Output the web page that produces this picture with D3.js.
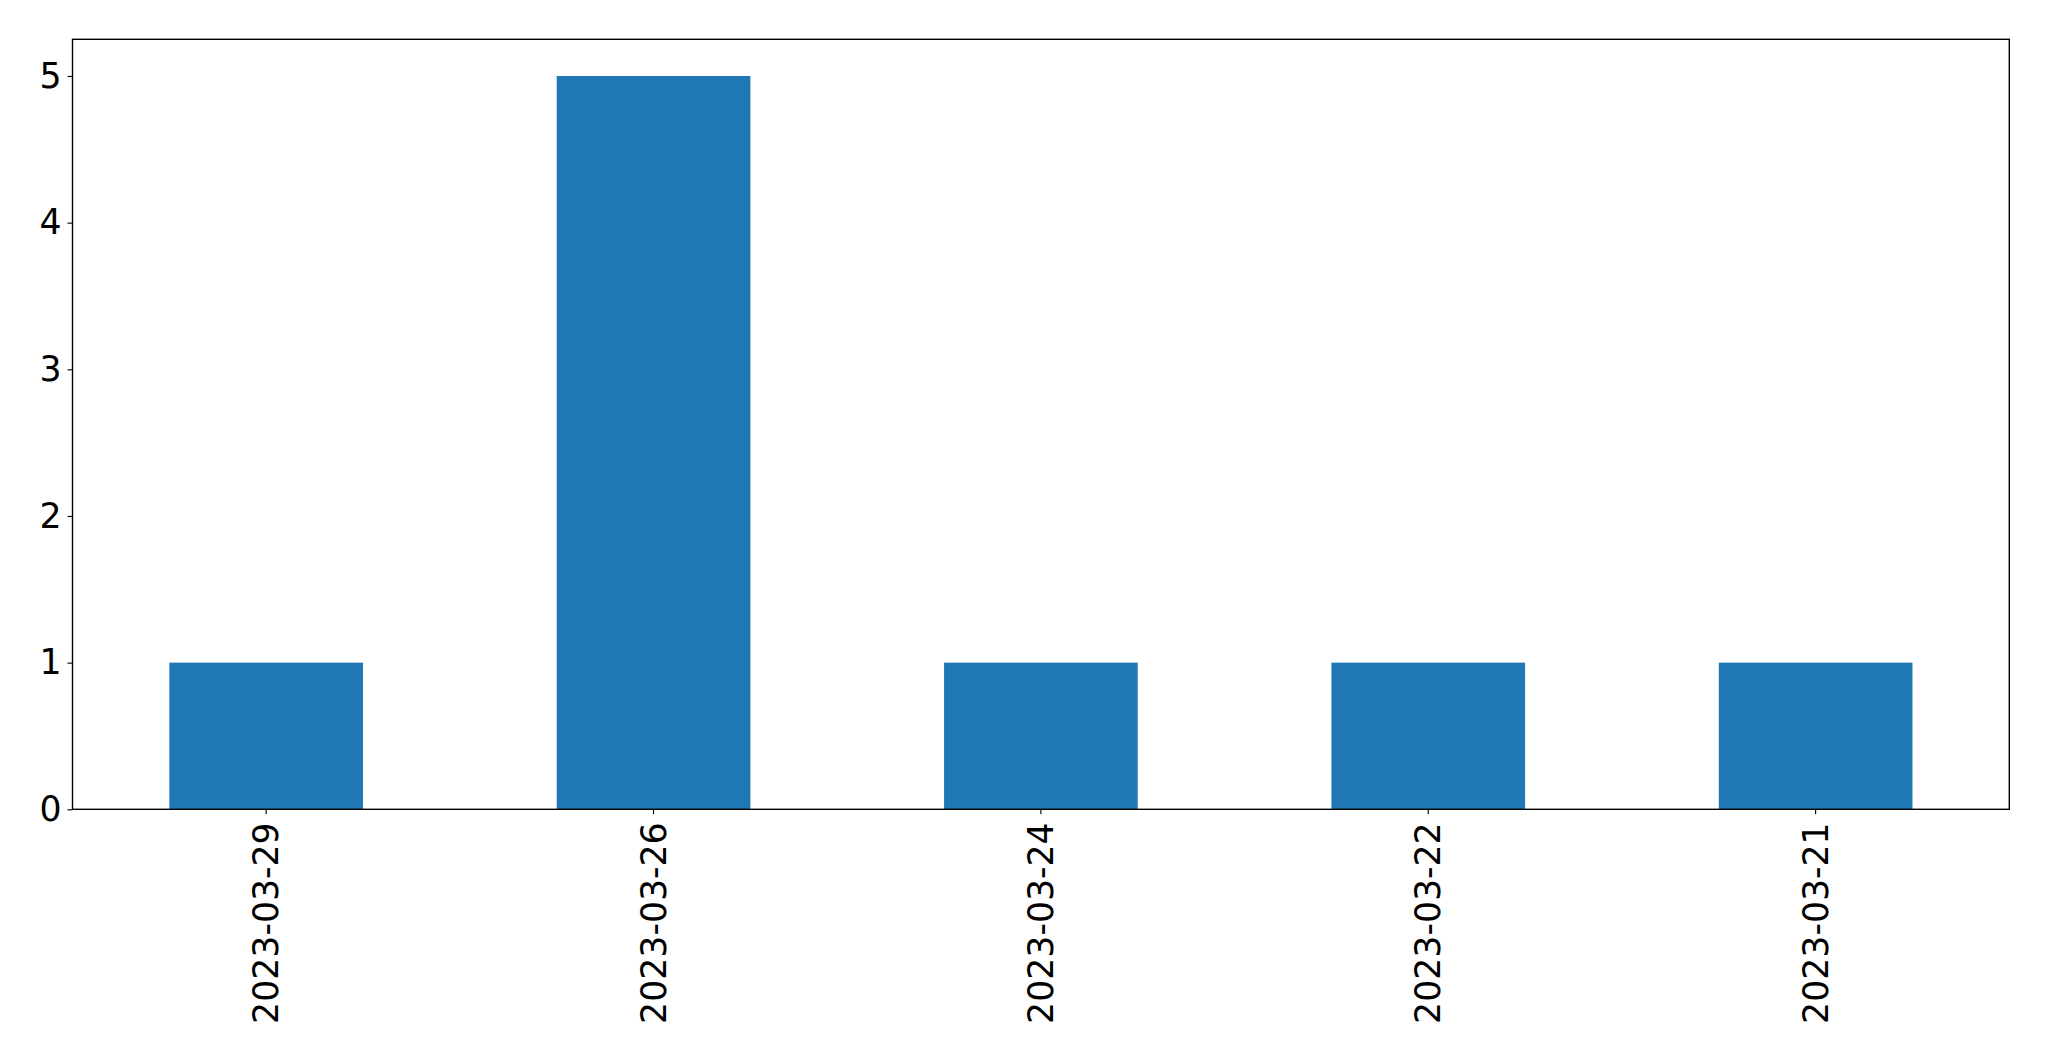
<!DOCTYPE html>
<html><head><meta charset="utf-8">
<script src="https://cdn.jsdelivr.net/npm/d3@7"></script>
<style>body{margin:0;background:#fff}svg{display:block}</style>
</head><body>
<script>
const categories = ["2023-03-29","2023-03-26","2023-03-24","2023-03-22","2023-03-21"];
const values = [1,5,1,1,1];
const yTicks = [0,1,2,3,4,5];

const W=2049,H=1061;
const m={left:72.5,right:2049-2009.3,top:39.3,bottom:1061-809.3};
const svg=d3.select("body").append("svg").attr("width",W).attr("height",H);
const iw=W-m.left-m.right, ih=H-m.top-m.bottom;
const g=svg.append("g").attr("transform",`translate(${m.left},${m.top})`);
const x=d3.scaleBand().domain(categories).range([0,iw]).paddingInner(0.5).paddingOuter(0.25);
const y=d3.scaleLinear().domain([0,5.25]).range([ih,0]);

g.selectAll("rect.bar").data(values).join("rect").attr("class","bar")
 .attr("x",(d,i)=>x(categories[i])).attr("width",x.bandwidth())
 .attr("y",d=>y(d)).attr("height",d=>ih-y(d)).attr("fill","#1f77b4");

const font="DejaVu Sans";
const ya=g.append("g").call(d3.axisLeft(y).tickValues(yTicks).tickSize(5).tickPadding(6).tickFormat(d3.format("d")));
ya.select(".domain").remove();
ya.selectAll("text").attr("font-family",font).attr("font-size",34.7).attr("fill","#000");
ya.selectAll("line").attr("stroke","#000").attr("stroke-width",1.1);

const xa=g.append("g").attr("transform",`translate(0,${ih})`).call(d3.axisBottom(x).tickSize(5).tickPadding(0));
xa.select(".domain").remove();
xa.selectAll("line").attr("stroke","#000").attr("stroke-width",1.1);
xa.selectAll("text").attr("font-family",font).attr("font-size",34.7).attr("fill","#000")
 .attr("transform","rotate(-90)").attr("text-anchor","end").attr("x",-13).attr("y",0).attr("dy","0.35em");

g.append("rect").attr("x",0).attr("y",0).attr("width",iw).attr("height",ih)
 .attr("fill","none").attr("stroke","#000").attr("stroke-width",1.4);
</script>
</body></html>
